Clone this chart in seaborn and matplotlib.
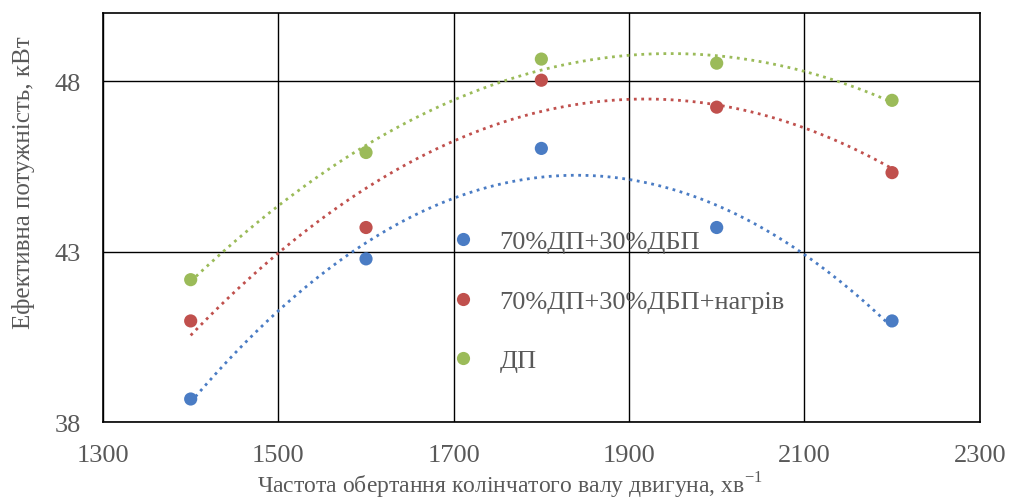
import numpy as np
import pandas as pd
import matplotlib
matplotlib.use('Agg')
import matplotlib.pyplot as plt
import seaborn as sns

rpm = [1400, 1600, 1800, 2000, 2200]
p_mix = [38.68, 42.79, 46.03, 43.71, 40.97]
p_mix_heat = [40.97, 43.71, 48.03, 47.24, 45.32]
p_dp = [42.18, 45.91, 48.65, 48.53, 47.44]
labels = ['70%ДП+30%ДБП', '70%ДП+30%ДБП+нагрів', 'ДП']
colors = ['#4A7CC4', '#C0504D', '#9BBB59']

sns.set_style('white')
plt.rcParams['font.family'] = ['Liberation Serif', 'DejaVu Serif']
plt.rcParams['mathtext.fontset'] = 'custom'
plt.rcParams['mathtext.rm'] = 'Liberation Serif'

df = pd.DataFrame({
    'rpm': rpm * 3,
    'power': p_mix + p_mix_heat + p_dp,
    'fuel': [labels[0]] * 5 + [labels[1]] * 5 + [labels[2]] * 5,
})

fig = plt.figure(figsize=(10.1, 5.02), dpi=100)
ax = fig.add_axes([0.102, 0.157, 0.868, 0.815])

# quadratic trend lines (dotted), like Excel's polynomial trendline
for lab, col in zip(labels, colors):
    sub = df[df['fuel'] == lab]
    sns.regplot(data=sub, x='rpm', y='power', order=2, ci=None, scatter=False,
                color=col, line_kws={'linestyle': ':', 'linewidth': 2}, ax=ax)

sns.scatterplot(data=df, x='rpm', y='power', hue='fuel', palette=colors,
                s=90, edgecolor='none', ax=ax, zorder=5)

ax.set_xlim(1300, 2300)
ax.set_ylim(38, 50)
ax.set_xticks([1300, 1500, 1700, 1900, 2100, 2300])
ax.set_yticks([38, 43, 48])
ax.grid(True, color='black', linewidth=1)
ax.set_axisbelow(True)
for s in ax.spines.values():
    s.set_color('black')
    s.set_linewidth(1.2)
ax.tick_params(axis='both', length=0, labelsize=19, colors='#595959')
ax.tick_params(axis='x', pad=16)
ax.tick_params(axis='y', pad=16)
ax.set_xlabel('Частота обертання колінчатого валу двигуна, хв$^{-1}$',
              fontsize=17, color='#595959')
ax.set_ylabel('Ефективна потужність, кВт', fontsize=18, color='#595959')
ax.xaxis.set_label_coords(0.464, -0.117)
ax.yaxis.set_label_coords(-0.078, 0.589)

leg = ax.legend(loc='center left', bbox_to_anchor=(0.353, 0.296), frameon=False,
                fontsize=19, labelspacing=1.36, handlelength=2, handletextpad=0.4,
                markerscale=1.0)
for t in leg.get_texts():
    t.set_color('#595959')

fig.savefig('out.png', dpi=100)
